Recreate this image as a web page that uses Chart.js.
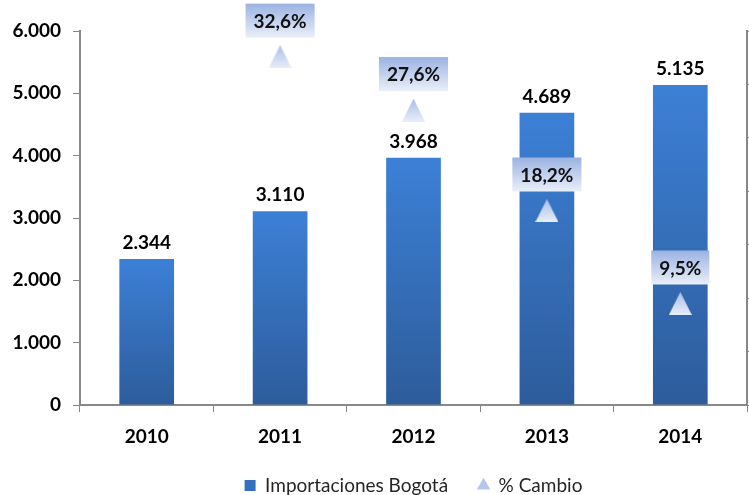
<!DOCTYPE html>
<html>
<head>
<meta charset="utf-8">
<script src="https://cdn.jsdelivr.net/npm/chart.js@4"></script>
<style>
html,body{margin:0;padding:0;background:#fff;}
#wrap{width:749px;height:495px;}
</style>
</head>
<body>
<div id="wrap"><canvas id="c" width="749" height="495"></canvas></div>
<script>
const categories = ['2010', '2011', '2012', '2013', '2014'];
const importaciones = [2344, 3110, 3968, 4689, 5135];
const cambio = [null, 32.6, 27.6, 18.2, 9.5];
const yTicks = [0, 1000, 2000, 3000, 4000, 5000, 6000];
const seriesNames = ['Importaciones Bogotá', '% Cambio'];

const FONT = 'Lato, "Open Sans", sans-serif';

function fmtThousands(v) {
  return String(Math.round(v)).replace(/\B(?=(\d{3})+(?!\d))/g, '.');
}
function fmtPct(v) {
  return v.toFixed(1).replace('.', ',') + '%';
}

function barGradient(ctx) {
  const chart = ctx.chart;
  if (ctx.type !== 'data' || !chart.chartArea || ctx.raw == null) return '#3A72C0';
  const y = chart.scales.y;
  const top = y.getPixelForValue(ctx.raw);
  const bottom = y.getPixelForValue(0);
  const g = chart.ctx.createLinearGradient(0, top, 0, bottom);
  g.addColorStop(0, '#3C80D6');
  g.addColorStop(1, '#2D5C9B');
  return g;
}

// triangle marker image (bbox-centred, gradient filled)
const triImg = (function () {
  const W = 23, H = 23;
  const cv = document.createElement('canvas');
  cv.width = W; cv.height = H;
  const c = cv.getContext('2d');
  const g = c.createLinearGradient(0, 0, 0, H);
  g.addColorStop(0, '#A9BEE9');
  g.addColorStop(1, '#E9EEF8');
  c.fillStyle = g;
  c.beginPath();
  c.moveTo(W / 2, 0);
  c.lineTo(W, H);
  c.lineTo(0, H);
  c.closePath();
  c.fill();
  return cv;
})();

const labelPlugin = {
  id: 'valueLabels',
  afterDatasetsDraw(chart) {
    const c = chart.ctx;
    c.save();
    const m0 = chart.getDatasetMeta(0);
    c.font = 'bold 19px ' + FONT;
    c.fillStyle = '#000';
    c.textAlign = 'center';
    c.textBaseline = 'alphabetic';
    m0.data.forEach((el, i) => {
      c.fillText(fmtThousands(importaciones[i]), el.x, el.y - 10);
    });
    const m1 = chart.getDatasetMeta(1);
    m1.data.forEach((el, i) => {
      const v = cambio[i];
      if (v == null) return;
      const txt = fmtPct(v);
      const tw = c.measureText(txt).width;
      const w = tw + 16, h = 34;
      const bx = el.x - w / 2, by = el.y - 19 - h;
      const g = c.createLinearGradient(0, by, 0, by + h);
      g.addColorStop(0, '#9BB2E2');
      g.addColorStop(1, '#EAEFF9');
      c.fillStyle = g;
      c.fillRect(bx, by, w, h);
      c.fillStyle = '#111';
      c.textBaseline = 'middle';
      c.fillText(txt, el.x, by + h / 2 + 1);
    });
    c.restore();
  }
};

new Chart(document.getElementById('c'), {
  data: {
    labels: categories,
    datasets: [
      {
        type: 'bar',
        label: seriesNames[0],
        data: importaciones,
        yAxisID: 'y',
        backgroundColor: barGradient,
        borderWidth: 0,
        categoryPercentage: 1,
        barPercentage: 0.41,
        pointStyle: 'rect',
        order: 1
      },
      {
        type: 'line',
        label: seriesNames[1],
        data: cambio,
        yAxisID: 'y1',
        showLine: false,
        pointStyle: triImg,
        pointRadius: 12,
        pointHoverRadius: 12,
        pointBorderWidth: 0,
        backgroundColor: '#B4C6EA',
        borderColor: 'rgba(0,0,0,0)',
        clip: false,
        order: 0
      }
    ]
  },
  options: {
    responsive: false,
    animation: false,
    layout: { autoPadding: false, padding: { top: 31, left: 0, right: 0, bottom: -10 } },
    plugins: {
      tooltip: { enabled: false },
      legend: {
        position: 'bottom',
        fullSize: false,
        labels: {
          usePointStyle: true,
          boxWidth: 11,
          boxHeight: 11,
          padding: 30,
          color: '#262626',
          font: { family: FONT, size: 19 },
          sort: (a, b) => a.datasetIndex - b.datasetIndex,
          generateLabels: (chart) => {
            const items = Chart.defaults.plugins.legend.labels.generateLabels(chart);
            items.forEach(it => {
              if (it.datasetIndex === 0) { it.pointStyle = 'rect'; it.fillStyle = '#356FBF'; it.strokeStyle = '#356FBF'; it.lineWidth = 0; }
              if (it.datasetIndex === 1) { it.pointStyle = 'triangle'; it.fillStyle = '#B4C6EA'; it.strokeStyle = '#B4C6EA'; it.lineWidth = 0; }
            });
            return items;
          }
        }
      }
    },
    scales: {
      x: {
        offset: true,
        grid: { offset: true, drawOnChartArea: false, drawTicks: true, tickLength: 7, color: '#888' },
        border: { color: '#888', width: 2 },
        ticks: { color: '#000', font: { family: FONT, size: 19, weight: 'bold' }, padding: 13 },
        afterFit: (s) => { s.height = 41; }
      },
      y: {
        position: 'left',
        min: 0, max: 6000,
        afterBuildTicks: (s) => { s.ticks = yTicks.map(v => ({ value: v })); },
        grid: { drawOnChartArea: false, drawTicks: true, tickLength: 7, color: '#888' },
        border: { color: '#888', width: 2 },
        ticks: { color: '#000', font: { family: FONT, size: 19, weight: 'bold' }, padding: 12, callback: (v) => fmtThousands(v) },
        afterFit: (s) => { s.width = 80; }
      },
      y1: {
        position: 'right',
        min: 0, max: 35,
        ticks: { display: false, stepSize: 5 },
        grid: { drawOnChartArea: false, drawTicks: true, tickLength: 6, color: '#888' },
        border: { color: '#888', width: 2 },
        afterFit: (s) => { s.width = 2; }
      }
    }
  },
  plugins: [labelPlugin]
});
</script>
</body>
</html>
